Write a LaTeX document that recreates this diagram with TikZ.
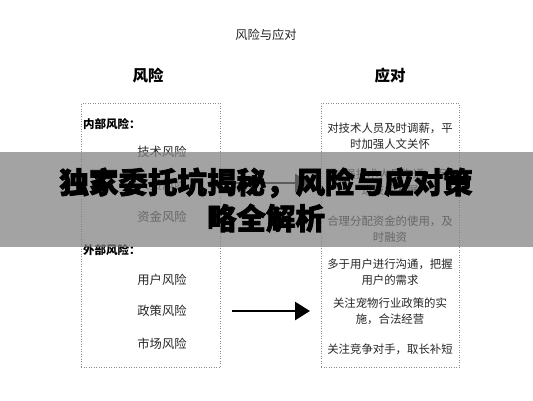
\documentclass[tikz,border=0pt]{standalone}
\usepackage{fontspec}
\setmainfont{Noto Sans CJK SC}
\newfontfamily\titlefont[BoldFeatures={FakeBold=2.6}]{Noto Sans CJK SC}
\usetikzlibrary{arrows.meta}
\tikzset{
  box/.style={draw=black!45, dotted, line width=0.5pt, minimum width=139pt, minimum height=264pt, inner sep=0pt},
  ltxt/.style={text=black!85, font=\fontsize{12.3}{15}\selectfont, inner sep=0pt},
  lhead/.style={text=black, font=\bfseries\fontsize{11.5}{14}\selectfont, inner sep=0pt, anchor=west},
  rtxt/.style={text=black!85, font=\fontsize{11.4}{16}\selectfont, inner sep=0pt, align=center},
  colhead/.style={text=black, font=\bfseries\fontsize{15.5}{18}\selectfont, inner sep=0pt},
  bigarrow/.style={line width=2.8pt, -{Triangle[length=15pt,width=18pt]}, black},
  band/.style={fill=black!50, fill opacity=0.72},
  bigtitle/.style={text=black, font=\titlefont\bfseries\fontsize{29.5}{36}\selectfont, align=center, inner sep=0pt}
}
\begin{document}
\begin{tikzpicture}[x=1pt,y=-1pt]
\useasboundingbox (0,0) rectangle (533,400);
\fill[white] (0,0) rectangle (533,400);
\node[text=black!85, font=\fontsize{12.3}{15}\selectfont, inner sep=0pt] (top) at (266,35) {风险与应对};
\node[colhead] (hl) at (148,76) {风险};
\node[colhead] (hr) at (390,76) {应对};
\node[box] (L) at (150.5,235) {};
\node[box, minimum width=138pt] (R) at (390,235) {};
% left column
\node[lhead] (in) at (83,124) {内部风险：};
\node[ltxt] (l1) at (162,152) {技术风险};
\node[ltxt] (l2) at (162,185) {人员风险};
\node[ltxt] (l3) at (162,217) {资金风险};
\node[lhead] (out) at (83,250) {外部风险：};
\node[ltxt] (l4) at (162,280) {用户风险};
\node[ltxt] (l5) at (162,311) {政策风险};
\node[ltxt] (l6) at (162,344) {市场风险};
% right column
\node[rtxt] (r1) at (390,136) {对技术人员及时调薪，平\\时加强人文关怀};
\node[rtxt] (r2) at (390,182) {加强技术人员沟通，促\\进技术发展};
\node[rtxt] (r3) at (390,229) {合理分配资金的使用，及\\时融资};
\node[rtxt] (r4) at (390,272) {多于用户进行沟通，把握\\用户的需求};
\node[rtxt] (r5) at (390,311) {关注宠物行业政策的实\\施，合法经营};
\node[rtxt] (r6) at (390,349) {关注竞争对手，取长补短};
% arrows
\coordinate (a1) at (232,183);
\coordinate (a2) at (310,183);
\coordinate (b1) at (232,311);
\coordinate (b2) at (310,311);
\draw[bigarrow] (a1) -- (a2);
\draw[bigarrow] (b1) -- (b2);
% overlay band
\fill[band] (0,152) rectangle (533,247);
\node[bigtitle] (T) at (266,200) {独家委托坑揭秘，风险与应对策\\略全解析};
\end{tikzpicture}
\end{document}
